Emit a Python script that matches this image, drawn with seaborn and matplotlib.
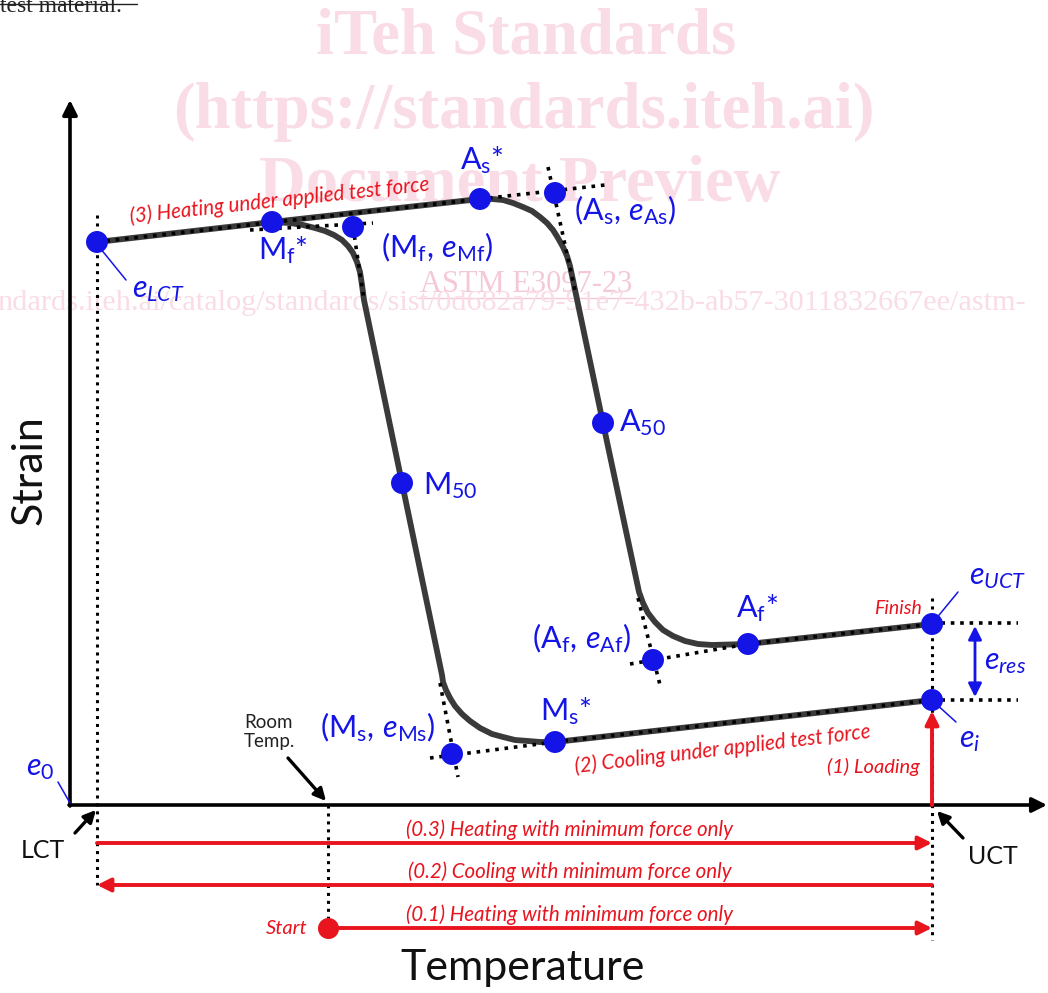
import matplotlib
matplotlib.use('Agg')
import matplotlib.pyplot as plt
import seaborn as sns
import pandas as pd

# ---------------- data (schematic positions: temperature -> x, strain -> y) ----------------
# heating under applied force: e_LCT -> As* -> A50 -> Af* -> e_UCT
heat_T = [97, 272, 480, 492, 503, 513, 523, 532, 540, 547, 553, 558, 563, 567, 570, 603, 636,
          639, 643, 648, 655, 663, 673, 685, 698, 712, 748, 932]
heat_e = [242, 222, 199, 199, 200, 203, 207, 211, 217, 223, 230, 238, 247, 256, 266, 423, 578,
          592, 603, 613, 622, 630, 636, 641, 644, 645, 644, 624]
# cooling under applied force: e_i -> Ms* -> M50 -> Mf*
cool_T = [932, 555, 540, 528, 515, 503, 492, 480, 470, 462, 455, 450, 446, 443, 442, 402, 364,
          362, 360, 357, 353, 348, 342, 334, 325, 315, 303, 290, 272]
cool_e = [700, 742, 742, 741, 740, 737, 734, 728, 721, 714, 706, 698, 690, 682, 675, 483, 300,
          285, 272, 262, 253, 246, 240, 235, 231, 228, 225, 223, 222]

# characteristic points
pt_names = ['e_LCT', 'Mf*', '(Mf,eMf)', 'As*', '(As,eAs)', 'A50', 'M50', '(Af,eAf)', 'Af*', 'Ms*', '(Ms,eMs)', 'e_UCT', 'e_i']
pt_T = [97, 272, 353, 480, 555, 603, 402, 653, 748, 555, 452, 932, 932]
pt_e = [242, 222, 227, 199, 193, 423, 483, 660, 644, 742, 754, 624, 700]

# tangent / construction lines (dotted)
tan_T0 = [97, 250, 353, 548, 630, 748, 638, 430, 440, 932, 932, 555]
tan_e0 = [242, 230, 227, 167, 664, 644, 598, 758, 683, 623, 700, 742]
tan_T1 = [605, 373, 364, 576, 748, 932, 660, 555, 458, 1018, 1018, 932]
tan_e1 = [185, 223, 300, 295, 644, 624, 685, 742, 777, 623, 700, 700]

# temperature marks
LCT, RT, UCT = 97, 328, 932
AXIS_Y = 805

labels = {
    'Mf*': (283, 250, r'$\mathrm{M_f}$*'),
    '(Mf,eMf)': (437, 247, r'$(\mathrm{M_f},\,e_\mathrm{Mf})$'),
    'As*': (482, 160, r'$\mathrm{A_s}$*'),
    '(As,eAs)': (625, 210, r'$(\mathrm{A_s},\,e_\mathrm{As})$'),
    'A50': (643, 423, r'$\mathrm{A_{50}}$'),
    'M50': (450, 486, r'$\mathrm{M_{50}}$'),
    '(Af,eAf)': (582, 638, r'$(\mathrm{A_f},\,e_\mathrm{Af})$'),
    'Af*': (757, 608, r'$\mathrm{A_f}$*'),
    'Ms*': (566, 711, r'$\mathrm{M_s}$*'),
    '(Ms,eMs)': (378, 727, r'$(\mathrm{M_s},\,e_\mathrm{Ms})$'),
    'e_LCT': (158, 290, r'$e_{LCT}$'),
    'e_UCT': (997, 577, r'$e_{UCT}$'),
    'e_res': (1005, 662, r'$e_{res}$'),
    'e_i': (970, 740, r'$e_{i}$'),
    'e_0': (40, 768, r'$e_{0}$'),
}

BLUE = '#1414e6'
RED = '#e8141e'
PINK = '#f9dce5'

sns.set_theme(style='white')
plt.rcParams['font.family'] = ['Lato', 'DejaVu Sans']
plt.rcParams['mathtext.fontset'] = 'custom'
plt.rcParams['mathtext.rm'] = 'Lato'
plt.rcParams['mathtext.it'] = 'Lato:italic'
plt.rcParams['mathtext.bf'] = 'Lato:bold'

fig = plt.figure(figsize=(10.48, 9.93), dpi=100)
ax = fig.add_axes([0, 0, 1, 1])

# ---------------- watermark ----------------
serif = ['Liberation Serif', 'DejaVu Serif']
ax.text(526, 38, 'iTeh Standards', ha='center', va='center', fontsize=46.5, fontweight='bold',
        family=serif, color=PINK, zorder=0)
ax.text(524, 112, '(https://standards.iteh.ai)', ha='center', va='center', fontsize=46.5,
        fontweight='bold', family=serif, color=PINK, zorder=0)
ax.text(520, 185, 'Document Preview', ha='center', va='center', fontsize=46.5, fontweight='bold',
        family=serif, color=PINK, zorder=0)
ax.text(526, 284, 'ASTM E3097-23', ha='center', va='center', fontsize=22, family=serif,
        color='#f5c8d6', zorder=0)
ax.plot([418, 635], [298, 298], color='#f5c8d6', lw=1, zorder=0)
ax.text(-3, 303, 'ndards.iteh.ai/catalog/standards/sist/0d682a79-91e7-432b-ab57-3011832667ee/astm-',
        ha='left', va='center', fontsize=21.8, family=serif, color=PINK, zorder=0)

# clipped heading text from previous page
ax.text(0, 12, 'test material.', ha='left', va='baseline', fontsize=17, family=serif, color='#222222')
ax.plot([0, 137], [4, 4], color='#222222', lw=1)

# ---------------- axes arrows ----------------
arrow_k = dict(arrowstyle='-|>', color='black', lw=2.6, mutation_scale=22, shrinkA=0, shrinkB=0)
ax.annotate('', xy=(70, 100), xytext=(70, AXIS_Y + 1), arrowprops=arrow_k, zorder=3)
ax.annotate('', xy=(1047, AXIS_Y), xytext=(69, AXIS_Y), arrowprops=arrow_k, zorder=3)

# ---------------- vertical temperature dotted lines ----------------
dot = (0, (1, 1.6))
ax.plot([LCT, LCT], [215, 885], color='black', lw=2.2, ls=dot, zorder=2)
ax.plot([RT, RT], [AXIS_Y, 928], color='black', lw=2.2, ls=dot, zorder=2)
ax.plot([UCT, UCT], [598, 940], color='black', lw=2.2, ls=dot, zorder=2)

# ---------------- hysteresis curve ----------------
sns.lineplot(x=heat_T, y=heat_e, sort=False, estimator=None, color='#3a3a3a', lw=4.2, ax=ax, zorder=3)
sns.lineplot(x=cool_T, y=cool_e, sort=False, estimator=None, color='#3a3a3a', lw=4.2, ax=ax, zorder=3)

# tangent construction lines
for x0, y0, x1, y1 in zip(tan_T0, tan_e0, tan_T1, tan_e1):
    ax.plot([x0, x1], [y0, y1], color='black', lw=2.6, ls=dot, zorder=4)

# characteristic points
pts = pd.DataFrame({'T': pt_T, 'e': pt_e, 'name': pt_names})
sns.scatterplot(data=pts, x='T', y='e', color=BLUE, s=250, edgecolor='none', ax=ax, zorder=6, legend=False)

# labels
for key, (x, y, s) in labels.items():
    ax.text(x, y, s, ha='center', va='center', fontsize=22, color=BLUE, zorder=7)

# leader lines
thin = dict(color=BLUE, lw=1.1, zorder=5)
ax.plot([58, 70], [782, 803], **thin)
ax.plot([100, 126], [248, 280], **thin)
ax.plot([935, 958], [620, 592], **thin)
ax.plot([935, 956], [703, 722], **thin)

# e_res double arrow
ax.annotate('', xy=(975, 626), xytext=(975, 697),
            arrowprops=dict(arrowstyle='<|-|>', color=BLUE, lw=2, mutation_scale=20, shrinkA=0, shrinkB=0),
            zorder=6)

# ---------------- red path annotations ----------------
red_k = dict(arrowstyle='-|>', color=RED, lw=2.8, mutation_scale=20, shrinkA=0, shrinkB=0)
ax.annotate('', xy=(UCT, 711), xytext=(UCT, AXIS_Y), arrowprops=red_k, zorder=5)
ax.annotate('', xy=(UCT, 843), xytext=(LCT, 843), arrowprops=red_k, zorder=5)
ax.annotate('', xy=(LCT, 885), xytext=(UCT, 885), arrowprops=red_k, zorder=5)
ax.annotate('', xy=(UCT, 928), xytext=(RT, 928), arrowprops=red_k, zorder=5)
ax.scatter([RT], [928], s=200, color=RED, zorder=6)

ax.text(570, 830, '(0.3) Heating with minimum force only', ha='center', va='center',
        fontsize=14.8, style='italic', color=RED)
ax.text(570, 872, '(0.2) Cooling with minimum force only', ha='center', va='center',
        fontsize=14.8, style='italic', color=RED)
ax.text(570, 915, '(0.1) Heating with minimum force only', ha='center', va='center',
        fontsize=14.8, style='italic', color=RED)
ax.text(287, 928, 'Start', ha='center', va='center', fontsize=14.5, style='italic', color=RED)
ax.text(898, 608, 'Finish', ha='center', va='center', fontsize=14, style='italic', color=RED)
ax.text(873, 767, '(1) Loading', ha='center', va='center', fontsize=14.5, style='italic', color=RED)
ax.text(280, 201, '(3) Heating under applied test force', ha='center', va='center', fontsize=14.8,
        style='italic', color=RED, rotation=6.2, rotation_mode='anchor')
ax.text(723, 749, '(2) Cooling under applied test force', ha='center', va='center', fontsize=14.8,
        style='italic', color=RED, rotation=6.8, rotation_mode='anchor')

# ---------------- black annotations ----------------
blk = dict(arrowstyle='-|>', color='black', lw=2.4, mutation_scale=18, shrinkA=0, shrinkB=0)
ax.annotate('', xy=(326, 801), xytext=(288, 758), arrowprops=blk, zorder=5)
ax.annotate('', xy=(96, 810), xytext=(75, 833), arrowprops=blk, zorder=5)
ax.annotate('', xy=(937, 811), xytext=(963, 838), arrowprops=blk, zorder=5)
ax.text(269, 732, 'Room\nTemp.', ha='center', va='center', fontsize=13.5, color='#222222', linespacing=1.1)
ax.text(43, 851, 'LCT', ha='center', va='center', fontsize=18, color='#111111')
ax.text(993, 857, 'UCT', ha='center', va='center', fontsize=18, color='#111111')

ax.text(30, 470, 'Strain', ha='center', va='center', rotation=90, fontsize=31, color='#111111')
ax.text(523, 968, 'Temperature', ha='center', va='center', fontsize=31, color='#111111')

ax.set_xlim(0, 1048)
ax.set_ylim(993, 0)
ax.axis('off')
fig.savefig('out.png', dpi=100)
